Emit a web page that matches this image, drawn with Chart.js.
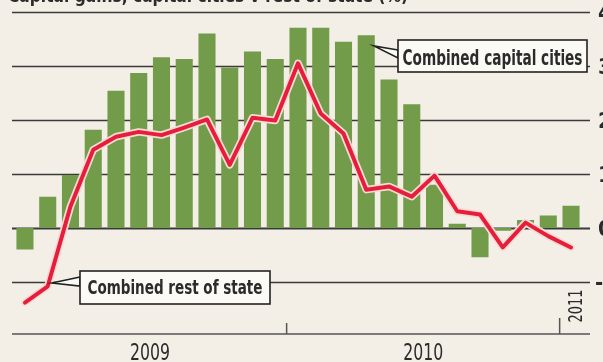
<!DOCTYPE html>
<html lang="en">
<head>
  <meta charset="UTF-8" />
  <title>Capital gains, capital cities v rest of state</title>
  <script src="https://cdn.jsdelivr.net/npm/chart.js"></script>
  <style>
    html, body { margin: 0; padding: 0; background: #f3efe6; }
    #wrap { width: 603px; height: 362px; }
  </style>
</head>
<body>
  <div id="wrap"><canvas id="chart" width="603" height="362"></canvas></div>
  <script>
    // monthly figures, Jan 2009 .. Jan 2011
    const months = ['Jan 2009','Feb 2009','Mar 2009','Apr 2009','May 2009','Jun 2009','Jul 2009','Aug 2009','Sep 2009','Oct 2009','Nov 2009','Dec 2009',
                    'Jan 2010','Feb 2010','Mar 2010','Apr 2010','May 2010','Jun 2010','Jul 2010','Aug 2010','Sep 2010','Oct 2010','Nov 2010','Dec 2010',
                    'Jan 2011'];
    const capitalCities = [-0.40, 0.58, 0.98, 1.82, 2.54, 2.87, 3.16, 3.13, 3.60, 2.97, 3.27, 3.13,
                           3.71, 3.71, 3.45, 3.57, 2.75, 2.29, 0.80, 0.08, -0.54, -0.05, 0.15, 0.23, 0.41];
    const restOfState = [-1.38, -1.08, 0.40, 1.45, 1.69, 1.78, 1.72, 1.86, 2.01, 1.17, 2.04, 1.99,
                         3.05, 2.12, 1.75, 0.71, 0.77, 0.58, 0.97, 0.31, 0.25, -0.36, 0.10, -0.15, -0.36];
    const yTicks = [-1, 0, 1, 2, 3, 4];
    const years = ['2009', '2010', '2011'];
    const title = 'Capital gains, capital cities v rest of state (%)';

    const narrow = '"Liberation Sans Narrow", "DejaVu Sans Condensed", "Roboto", sans-serif';
    const ink = '#2b2b2b';

    // draw text squeezed/stretched to a given width (the print face is condensed)
    function fitText(ctx, text, x, y, width, font, align) {
      ctx.save();
      ctx.font = font;
      const w = ctx.measureText(text).width;
      ctx.translate(x, y);
      ctx.scale(width / w, 1);
      ctx.textAlign = align || 'center';
      ctx.textBaseline = 'alphabetic';
      ctx.fillText(text, 0, 0);
      ctx.restore();
    }

    function callout(ctx, box, tip, text, textW, baseline, fontSize) {
      ctx.save();
      ctx.fillStyle = '#fbfaf5';
      ctx.strokeStyle = '#222';
      ctx.lineWidth = 1.6;
      // tail
      ctx.beginPath();
      ctx.moveTo(box.x, box.tailY1);
      ctx.lineTo(tip.x, tip.y);
      ctx.lineTo(box.x, box.tailY2);
      ctx.closePath();
      ctx.fill();
      ctx.stroke();
      ctx.fillRect(box.x, box.y, box.w, box.h);
      ctx.strokeRect(box.x, box.y, box.w, box.h);
      ctx.fillStyle = ink;
      fitText(ctx, text, box.x + box.w / 2, baseline, textW, 'bold ' + fontSize + 'px ' + narrow, 'center');
      ctx.restore();
    }

    const paperPlugin = {
      id: 'paper',
      beforeDraw(chart) {
        const ctx = chart.ctx;
        ctx.save();
        ctx.fillStyle = '#f3efe6';
        ctx.fillRect(0, 0, chart.width, chart.height);
        // headline is trimmed by the top edge in the cutting
        ctx.fillStyle = ink;
        fitText(ctx, title, 8, 2, 400, 'bold 17px ' + narrow, 'left');
        ctx.restore();
      },
      beforeDatasetsDraw(chart) {
        const ctx = chart.ctx;
        const y = chart.scales.y;
        ctx.save();
        ctx.strokeStyle = '#3a3a3a';
        yTicks.forEach(v => {
          const py = Math.round(y.getPixelForValue(v)) + 0.5;
          ctx.lineWidth = v === 0 ? 2 : 1.4;
          ctx.beginPath();
          ctx.moveTo(12, py);
          ctx.lineTo(590, py);
          ctx.stroke();
        });
        ctx.restore();
      },
      afterDraw(chart) {
        const ctx = chart.ctx;
        const x = chart.scales.x;
        const y = chart.scales.y;
        const area = chart.chartArea;
        ctx.save();

        // bottom time axis
        const base = area.bottom;
        ctx.strokeStyle = '#555';
        ctx.lineWidth = 1.5;
        ctx.beginPath();
        ctx.moveTo(12, base);
        ctx.lineTo(590, base);
        ctx.stroke();
        [12, 24].forEach(i => {
          const px = (x.getPixelForValue(i - 1) + x.getPixelForValue(i)) / 2;
          ctx.beginPath();
          ctx.moveTo(px, base);
          ctx.lineTo(px, base - (i === 24 ? 16 : 11));
          ctx.stroke();
        });

        ctx.fillStyle = ink;
        [0, 1].forEach(k => {
          const cx = (x.getPixelForValue(k * 12) + x.getPixelForValue(k * 12 + 11)) / 2;
          fitText(ctx, years[k], cx, 360, 40, '23px ' + narrow, 'center');
        });
        // 2011 stands on its side at the end
        ctx.save();
        ctx.translate(582, 306);
        ctx.rotate(-Math.PI / 2);
        fitText(ctx, years[2], 0, 0, 33, '19px ' + narrow, 'center');
        ctx.restore();

        // right-hand value labels, partly trimmed by the page edge
        ctx.textBaseline = 'middle';
        yTicks.forEach(v => {
          ctx.font = 'bold 22px ' + narrow;
          ctx.textAlign = 'left';
          ctx.fillText(String(v), v < 0 ? 595 : 598, y.getPixelForValue(v) + 2);
        });

        // callouts
        callout(ctx, { x: 398, y: 40, w: 189, h: 32, tailY1: 50, tailY2: 58 },
          { x: 374, y: 46 }, 'Combined capital cities', 180, 65, 21);
        callout(ctx, { x: 80, y: 271, w: 190, h: 33, tailY1: 277, tailY2: 286 },
          { x: 52, y: 283 }, 'Combined rest of state', 175, 294, 20);
        ctx.restore();
      }
    };

    new Chart(document.getElementById('chart').getContext('2d'), {
      type: 'bar',
      data: {
        labels: months,
        datasets: [
          {
            type: 'line',
            label: 'Combined rest of state',
            data: restOfState,
            borderColor: '#e61e3c',
            borderWidth: 4,
            borderJoinStyle: 'round',
            borderCapStyle: 'round',
            pointRadius: 0,
            tension: 0,
            order: 1
          },
          {
            type: 'line',
            label: 'halo',
            data: restOfState,
            borderColor: '#f7dcd6',
            borderWidth: 7.5,
            borderJoinStyle: 'round',
            borderCapStyle: 'round',
            pointRadius: 0,
            tension: 0,
            order: 2
          },
          {
            label: 'Combined capital cities',
            data: capitalCities,
            backgroundColor: '#729c4a',
            borderWidth: 0,
            categoryPercentage: 1,
            barPercentage: 0.75,
            order: 3
          }
        ]
      },
      options: {
        responsive: false,
        animation: false,
        layout: { padding: { left: 13.6, right: 20.6, top: 12, bottom: 28 } },
        plugins: { legend: { display: false }, tooltip: { enabled: false } },
        scales: {
          x: { display: false, offset: true },
          y: { display: false, min: -1.963, max: 4 }
        }
      },
      plugins: [paperPlugin]
    });
  </script>
</body>
</html>
